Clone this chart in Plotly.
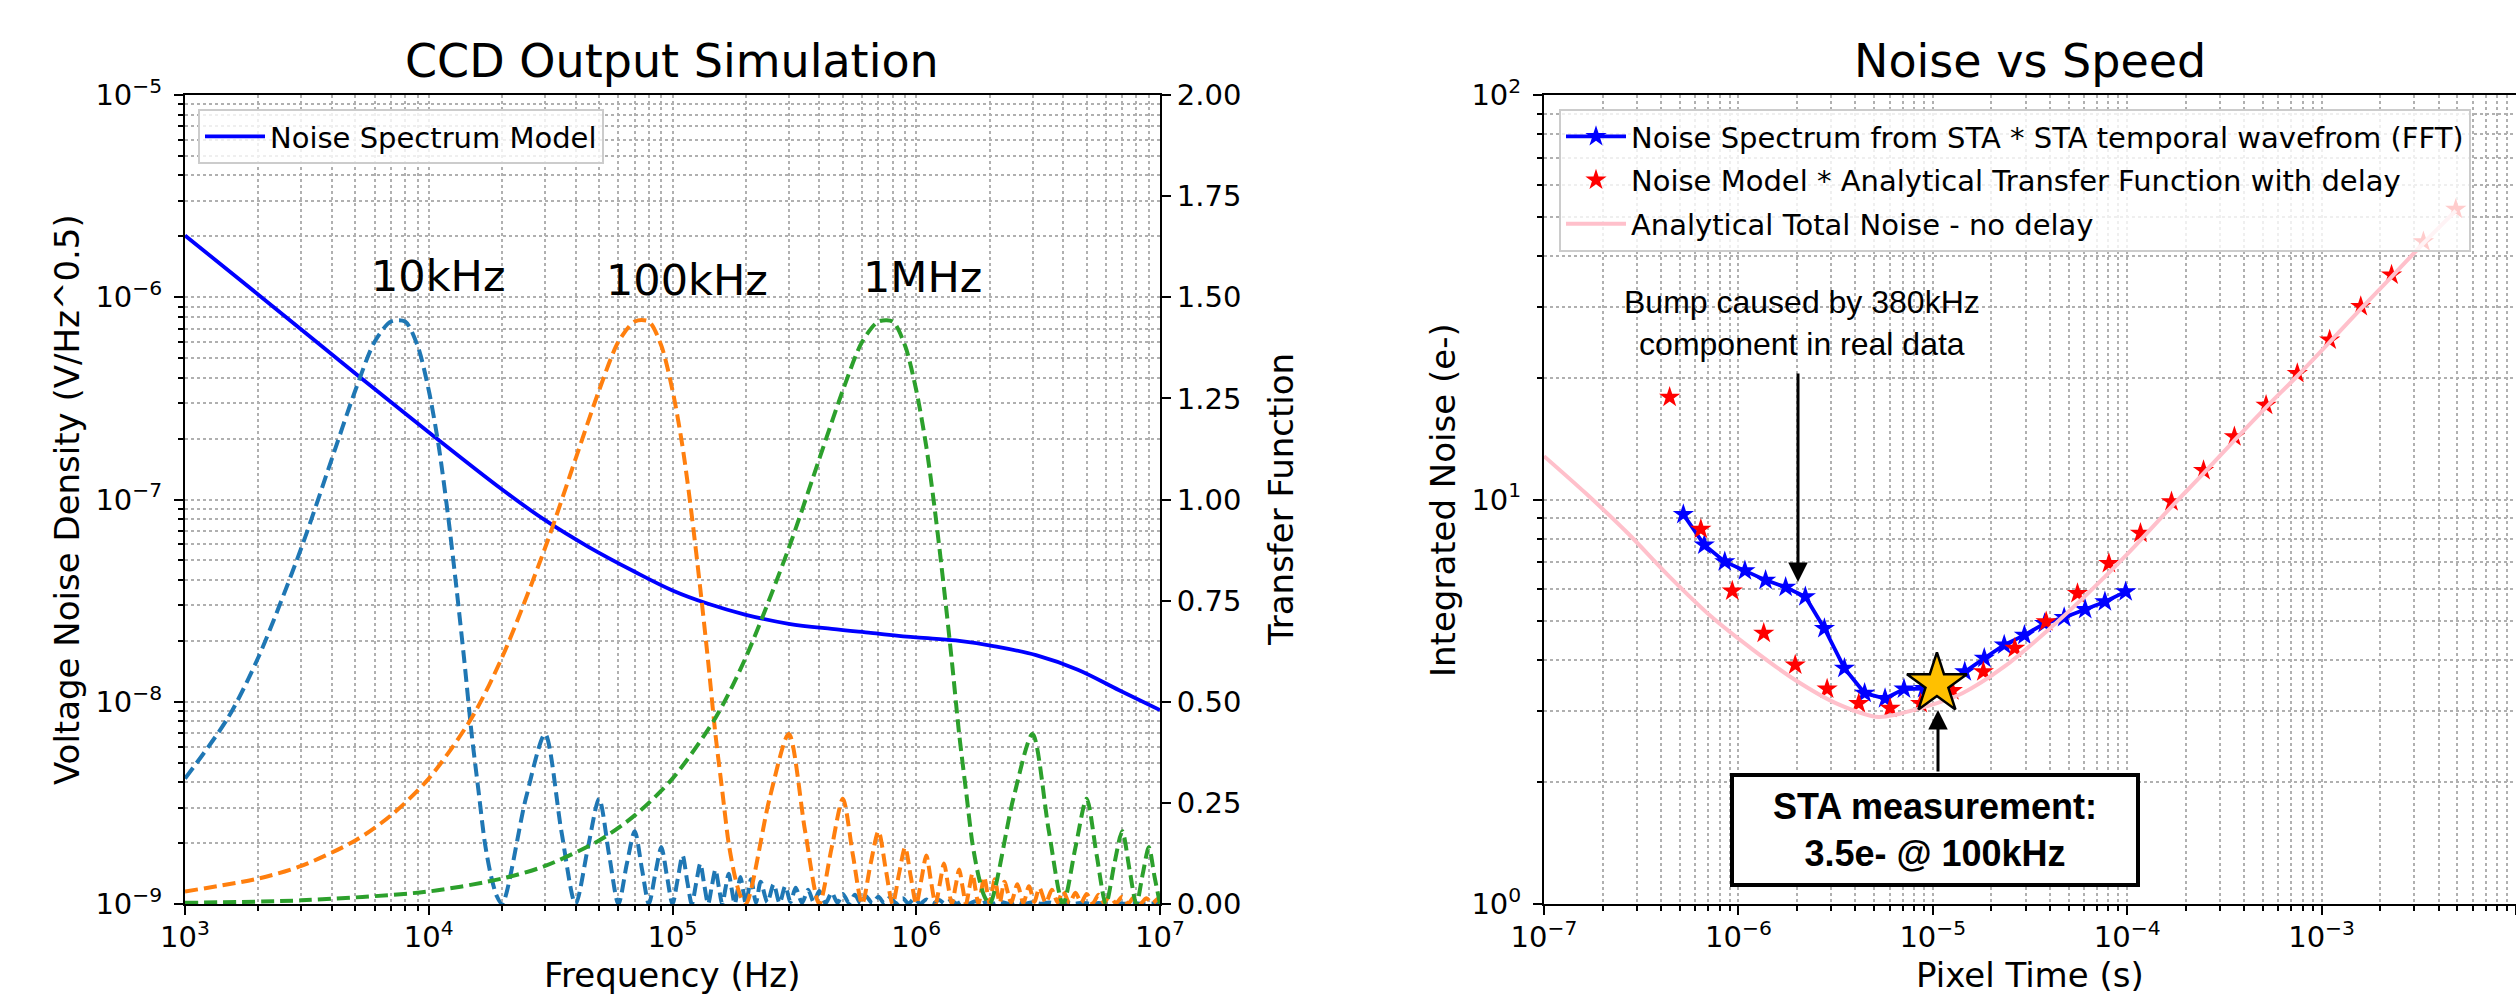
import plotly.graph_objects as go

W, H = 2516, 999

# ---------------- left panel: CCD Output Simulation ----------------
model_freq = [1e3, 2e3, 5e3, 1e4, 2e4, 3e4, 4.5e4, 7e4, 1e5, 1.4e5, 2e5, 3e5, 4.5e5, 6.5e5,
              1e6, 1.45e6, 2.1e6, 3.1e6, 4.6e6, 6.8e6, 1e7]
model_density = [2.02e-6, 1.03e-6, 4.2e-7, 2.15e-7, 1.12e-7, 7.9e-8, 5.85e-8, 4.39e-8, 3.55e-8,
                 3.05e-8, 2.69e-8, 2.43e-8, 2.29e-8, 2.19e-8, 2.08e-8, 2.01e-8, 1.88e-8, 1.70e-8,
                 1.44e-8, 1.14e-8, 9.1e-9]

# 10 kHz transfer function (main lobe + side lobes)
tf10k_freq = [1e3, 1.5e3, 2e3, 3e3, 4e3, 5e3, 6e3, 7e3, 8e3, 9e3, 1e4, 1.1e4, 1.2e4, 1.3e4, 1.4e4,
              1.5e4, 1.6e4, 1.7e4, 1.8e4, 1.9e4, 2e4,
              2.5e4, 3e4, 3.5e4, 4e4, 4.5e4, 5e4, 5.5e4, 6e4, 6.5e4, 7e4, 7.5e4, 8e4, 8.5e4, 9e4,
              9.5e4, 1e5, 1.05e5, 1.1e5, 1.15e5, 1.2e5, 1.25e5, 1.3e5, 1.35e5, 1.4e5, 1.45e5,
              1.5e5, 1.55e5, 1.6e5, 1.65e5, 1.7e5, 1.75e5, 1.8e5, 1.85e5, 1.9e5, 1.95e5, 2e5]
tf10k_gain = [0.31, 0.46, 0.61, 0.88, 1.10, 1.27, 1.39, 1.44, 1.44, 1.38, 1.27, 1.13, 0.96, 0.78, 0.60,
              0.42, 0.28, 0.15, 0.07, 0.02, 0.0,
              0.26, 0.42, 0.18, 0.0, 0.14, 0.26, 0.12, 0.0, 0.10, 0.18, 0.085, 0.0, 0.075, 0.14,
              0.067, 0.0, 0.061, 0.12, 0.055, 0.0, 0.051, 0.10, 0.047, 0.0, 0.044,
              0.085, 0.041, 0.0, 0.039, 0.075, 0.036, 0.0, 0.034, 0.067, 0.033, 0.0]
tf10k_tail_freq = [2.1e5, 2.2e5, 2.3e5, 2.45e5, 2.6e5, 2.75e5, 2.9e5, 3.05e5, 3.2e5, 3.4e5, 3.6e5,
                   3.8e5, 4.0e5, 4.25e5, 4.5e5, 4.75e5, 5.0e5, 5.3e5, 5.6e5, 5.9e5, 6.2e5, 6.6e5,
                   7.0e5, 7.4e5, 7.8e5, 8.3e5, 8.8e5, 9.3e5, 9.8e5, 1.04e6, 1.1e6, 1.17e6, 1.24e6,
                   1.31e6, 1.39e6, 1.47e6, 1.56e6, 1.65e6, 1.75e6, 1.85e6, 1.96e6, 2.08e6, 2.2e6,
                   2.4e6, 2.6e6, 2.8e6, 3.0e6, 3.25e6, 3.5e6, 3.8e6, 4.1e6, 4.45e6, 4.8e6, 5.2e6,
                   5.6e6, 6.1e6, 6.6e6, 7.2e6, 7.8e6, 8.5e6, 9.2e6, 1e7]
tf10k_tail_gain = [0.061, 0.003, 0.055, 0.004, 0.049, 0.002, 0.044, 0.005, 0.040, 0.003, 0.035,
                   0.004, 0.032, 0.002, 0.028, 0.003, 0.025, 0.002, 0.023, 0.002, 0.020, 0.002,
                   0.018, 0.001, 0.016, 0.001, 0.014, 0.001, 0.013, 0.001, 0.011, 0.001, 0.010,
                   0.001, 0.009, 0.001, 0.008, 0.001, 0.007, 0.001, 0.006, 0.001, 0.0055,
                   0.0005, 0.005, 0.0005, 0.0045, 0.0005, 0.004, 0.0005, 0.0035, 0.0005, 0.003, 0.0005,
                   0.0025, 0.0005, 0.002, 0.0005, 0.0018, 0.0005, 0.0015, 0.0005]

# 100 kHz transfer function
tf100k_freq = [1e3, 2e3, 3e3, 5e3, 7e3, 1e4, 1.5e4, 2e4, 3e4, 4e4, 5e4, 6e4, 7e4, 8e4, 9e4, 1e5,
               1.1e5, 1.2e5, 1.3e5, 1.4e5, 1.5e5, 1.6e5, 1.7e5, 1.8e5, 1.9e5, 2e5,
               2.5e5, 3e5, 3.5e5, 4e5, 4.5e5, 5e5, 5.5e5, 6e5, 6.5e5, 7e5, 7.5e5, 8e5, 8.5e5, 9e5,
               9.5e5, 1e6, 1.05e6, 1.1e6, 1.15e6, 1.2e6, 1.25e6, 1.3e6, 1.35e6, 1.4e6, 1.45e6,
               1.5e6, 1.55e6, 1.6e6, 1.65e6, 1.7e6, 1.75e6, 1.8e6, 1.85e6, 1.9e6, 1.95e6, 2e6]
tf100k_gain = [0.031, 0.063, 0.094, 0.157, 0.219, 0.31, 0.46, 0.61, 0.88, 1.10, 1.27, 1.39, 1.44, 1.44,
               1.38, 1.27, 1.13, 0.96, 0.78, 0.60, 0.42, 0.28, 0.15, 0.07, 0.02, 0.0,
               0.26, 0.42, 0.18, 0.0, 0.14, 0.26, 0.12, 0.0, 0.10, 0.18, 0.085, 0.0, 0.075, 0.14,
               0.067, 0.0, 0.061, 0.12, 0.055, 0.0, 0.051, 0.10, 0.047, 0.0, 0.044,
               0.085, 0.041, 0.0, 0.039, 0.075, 0.036, 0.0, 0.034, 0.067, 0.033, 0.0]
tf100k_tail_freq = [2.1e6, 2.2e6, 2.3e6, 2.45e6, 2.6e6, 2.75e6, 2.9e6, 3.05e6, 3.2e6, 3.4e6, 3.6e6,
                    3.8e6, 4.0e6, 4.25e6, 4.5e6, 4.75e6, 5.0e6, 5.3e6, 5.6e6, 5.9e6, 6.2e6, 6.6e6,
                    7.0e6, 7.4e6, 7.8e6, 8.3e6, 8.8e6, 9.3e6, 9.8e6, 1e7]
tf100k_tail_gain = [0.061, 0.003, 0.055, 0.004, 0.049, 0.002, 0.044, 0.005, 0.040, 0.003, 0.035,
                    0.004, 0.032, 0.002, 0.028, 0.003, 0.025, 0.002, 0.023, 0.002, 0.020, 0.002,
                    0.018, 0.001, 0.016, 0.001, 0.014, 0.001, 0.013, 0.004]

# 1 MHz transfer function
tf1m_freq = [1e3, 3e3, 1e4, 2e4, 3e4, 5e4, 7e4, 1e5, 1.5e5, 2e5, 3e5, 4e5, 5e5, 6e5, 7e5, 8e5, 9e5,
             1e6, 1.1e6, 1.2e6, 1.3e6, 1.4e6, 1.5e6, 1.6e6, 1.7e6, 1.8e6, 1.9e6, 2e6,
             2.5e6, 3e6, 3.5e6, 4e6, 4.5e6, 5e6, 5.5e6, 6e6, 6.5e6, 7e6, 7.5e6, 8e6, 8.5e6, 9e6,
             9.5e6, 1e7]
tf1m_gain = [0.003, 0.009, 0.031, 0.063, 0.094, 0.157, 0.219, 0.31, 0.46, 0.61, 0.88, 1.10, 1.27,
             1.39, 1.44, 1.44, 1.38, 1.27, 1.13, 0.96, 0.78, 0.60, 0.42, 0.28, 0.15, 0.07, 0.02, 0.0,
             0.26, 0.42, 0.18, 0.0, 0.14, 0.26, 0.12, 0.0, 0.10, 0.18, 0.085, 0.0, 0.075, 0.14,
             0.067, 0.0]

# ---------------- right panel: Noise vs Speed ----------------
sta_time = [5.21e-7, 6.68e-7, 8.51e-7, 1.08e-6, 1.38e-6, 1.75e-6, 2.21e-6, 2.77e-6, 3.51e-6, 4.46e-6,
            5.68e-6, 7.11e-6, 9.02e-6, 1.14e-5, 1.46e-5, 1.84e-5, 2.33e-5, 2.96e-5, 3.76e-5,
            4.74e-5, 6.08e-5, 7.68e-5, 9.82e-5]
sta_noise = [9.19, 7.72, 7.02, 6.67, 6.32, 6.07, 5.75, 4.80, 3.83, 3.32, 3.22, 3.40, 3.41, 3.51,
             3.75, 4.05, 4.37, 4.62, 4.94, 5.11, 5.35, 5.59, 5.92]

delay_time = [4.43e-7, 6.41e-7, 9.3e-7, 1.35e-6, 1.96e-6, 2.86e-6, 4.16e-6, 6.03e-6, 8.66e-6, 1.26e-5,
              1.82e-5, 2.64e-5, 3.83e-5, 5.55e-5, 8.05e-5, 1.17e-4, 1.69e-4, 2.47e-4, 3.56e-4,
              5.18e-4, 7.5e-4, 1.1e-3, 1.59e-3, 2.29e-3, 3.34e-3, 4.9e-3]
delay_noise = [17.9, 8.44, 5.94, 4.67, 3.90, 3.40, 3.13, 3.05, 3.13, 3.37, 3.75, 4.29, 4.99, 5.86,
               6.95, 8.25, 9.88, 11.8, 14.3, 17.1, 20.5, 24.8, 30.0, 35.9, 43.4, 52.2]

analytic_time = [1e-7, 1.64e-7, 2.70e-7, 4.43e-7, 7.27e-7, 1.19e-6, 1.96e-6, 3.21e-6, 5.27e-6,
                 8.66e-6, 1.42e-5, 2.33e-5, 3.83e-5, 6.28e-5, 1.03e-4, 1.69e-4, 2.47e-4, 3.56e-4,
                 5.18e-4, 7.5e-4, 1.1e-3, 1.59e-3, 2.29e-3, 3.34e-3, 4.9e-3]
analytic_noise = [12.8, 10.36, 8.25, 6.44, 5.13, 4.25, 3.58, 3.13, 2.90, 3.05, 3.32, 3.86, 4.71,
                  5.86, 7.43, 9.6, 11.6, 14.0, 16.9, 20.2, 24.5, 29.6, 35.5, 43.0, 51.8]

measure_time = [1.05e-5]
measure_noise = [3.5]

FONT = "DejaVu Sans"
ARIAL = "Liberation Sans"
GRID = "#b0b0b0"
TICK_SIZE = 29


def px(x):
    return x / W


def py(y):
    return 1 - y / H


def sup(e):
    return "10<sup>" + str(e).replace("-", "\u2212") + "</sup>"


def log_axis(domain, lo, hi, **kw):
    ax = dict(
        type="log", domain=domain, range=[lo, hi], automargin=False,
        tickmode="array", tickvals=[10.0 ** e for e in range(lo, hi + 1)],
        ticktext=[sup(e) for e in range(lo, hi + 1)],
        ticks="outside", ticklen=9, tickwidth=2, tickcolor="black",
        showline=True, linewidth=2, linecolor="black",
        showgrid=True, gridcolor=GRID, griddash="dot", gridwidth=1.5,
        zeroline=False,
        tickfont=dict(family=FONT, size=TICK_SIZE, color="black"),
        minor=dict(tickmode="array",
                   tickvals=[m * 10.0 ** e for e in range(lo, hi) for m in range(2, 10)],
                   ticks="outside", ticklen=5, tickwidth=1.5, tickcolor="black",
                   showgrid=True, gridcolor=GRID, griddash="dot", gridwidth=1.5),
    )
    ax.update(kw)
    return ax


fig = go.Figure()

fig.add_trace(go.Scatter(x=model_freq, y=model_density, mode="lines", name="Noise Spectrum Model",
                         line=dict(color="#0000ff", width=3.8, shape="spline", smoothing=1.0),
                         xaxis="x", yaxis="y", legend="legend"))

dash = "13px,6px"
for f, g, tf, tg, col in [(tf10k_freq, tf10k_gain, tf10k_tail_freq, tf10k_tail_gain, "#1f77b4"),
                          (tf100k_freq, tf100k_gain, tf100k_tail_freq, tf100k_tail_gain, "#ff7f0e"),
                          (tf1m_freq, tf1m_gain, [], [], "#2ca02c")]:
    fig.add_trace(go.Scatter(x=f + tf, y=g + tg, mode="lines", showlegend=False,
                             line=dict(color=col, width=4, dash=dash, shape="spline", smoothing=0.8),
                             xaxis="x", yaxis="y2"))

fig.add_trace(go.Scatter(x=sta_time, y=sta_noise, mode="lines+markers",
                         name="Noise Spectrum from STA * STA temporal wavefrom (FFT)",
                         line=dict(color="#0000ff", width=3.8),
                         marker=dict(symbol="star", size=16, color="#0000ff"),
                         xaxis="x2", yaxis="y3", legend="legend2", legendgroup="a"))
fig.add_trace(go.Scatter(x=delay_time, y=delay_noise, mode="markers",
                         name="Noise Model * Analytical Transfer Function with delay",
                         marker=dict(symbol="star", size=16, color="#ff0000"),
                         xaxis="x2", yaxis="y3", legend="legend2", legendgroup="b"))
fig.add_trace(go.Scatter(x=analytic_time, y=analytic_noise, mode="lines",
                         name="Analytical Total Noise - no delay",
                         line=dict(color="#ffc0cb", width=4, shape="spline", smoothing=0.8),
                         xaxis="x2", yaxis="y3", legend="legend2", legendgroup="c"))
fig.add_trace(go.Scatter(x=measure_time, y=measure_noise, mode="markers", showlegend=False,
                         marker=dict(symbol="star", size=45, color="#ffc000",
                                     line=dict(color="black", width=2.5)),
                         xaxis="x2", yaxis="y3"))

ydom = [py(904), py(95)]
legend_style = dict(font=dict(family=FONT, size=TICK_SIZE, color="black"),
                    bgcolor="rgba(255,255,255,0.8)", bordercolor="#cccccc", borderwidth=2,
                    xanchor="left", yanchor="top", itemwidth=60)

fig.update_layout(
    width=W, height=H,
    margin=dict(l=0, r=0, t=0, b=0, autoexpand=False),
    paper_bgcolor="white", plot_bgcolor="white",
    font=dict(family=FONT, color="black"),
    xaxis=log_axis([px(185), px(1160)], 3, 7, anchor="y", mirror=True, ticklabelstandoff=-3),
    yaxis=log_axis(ydom, -9, -5, anchor="x", mirror=True, ticklabelstandoff=6),
    yaxis2=dict(overlaying="y", side="right", anchor="x", range=[0, 2], dtick=0.25,
                tickformat=".2f", ticks="outside", ticklen=9, tickwidth=2, tickcolor="black",
                showline=True, linewidth=2, linecolor="black", showgrid=False, zeroline=False,
                automargin=False,
                tickfont=dict(family=FONT, size=TICK_SIZE, color="black")),
    xaxis2=log_axis([px(1544), 1.0], -7, -2, anchor="y3", mirror=True, ticklabelstandoff=-3),
    yaxis3=log_axis(ydom, 0, 2, anchor="x2", ticklabelstandoff=6),
    legend=dict(x=px(198), y=py(109), **legend_style),
    legend2=dict(x=px(1559), y=py(109), traceorder="grouped", tracegroupgap=3, **legend_style),
)

notes = [
    ("CCD Output Simulation", 672, 61, 46, 0, FONT),
    ("Noise vs Speed", 2030, 61, 46, 0, FONT),
    ("Frequency (Hz)", 672, 975, 34, 0, FONT),
    ("Pixel Time (s)", 2030, 975, 34, 0, FONT),
    ("Voltage Noise Density (V/Hz^0.5)", 67, 500, 34, -90, FONT),
    ("Transfer Function", 1281, 500, 34, -90, FONT),
    ("Integrated Noise (e-)", 1443, 500, 34, -90, FONT),
    ("10kHz", 438, 276, 43, 0, FONT),
    ("100kHz", 687, 280, 43, 0, FONT),
    ("1MHz", 922, 277, 43, 0, FONT),
    ("Bump caused by 380kHz<br>component in real data", 1802, 323, 32, 0, ARIAL),
]
for text, x, y, size, angle, fam in notes:
    fig.add_annotation(text=text, x=px(x), y=py(y), xref="paper", yref="paper", showarrow=False,
                       xanchor="center", yanchor="middle", textangle=angle,
                       font=dict(family=fam, size=size, color="black"))

# arrows
fig.add_annotation(text="", x=px(1798), y=py(582), xref="paper", yref="paper", ax=0, ay=-210,
                   showarrow=True, arrowhead=2, arrowsize=1.3, arrowwidth=3, arrowcolor="black")
fig.add_annotation(text="", x=px(1938), y=py(710), xref="paper", yref="paper", ax=0, ay=63,
                   showarrow=True, arrowhead=2, arrowsize=1.3, arrowwidth=3, arrowcolor="black")

# measurement box
fig.add_annotation(text="<b>STA measurement:</b><br><b>3.5e- @ 100kHz</b>",
                   x=px(1935), y=py(829.5), xref="paper", yref="paper", showarrow=False,
                   xanchor="center", yanchor="middle", width=400, height=104, borderpad=1,
                   bordercolor="black", borderwidth=4, bgcolor="white",
                   font=dict(family=ARIAL, size=36, color="black"))

# page body has a default 8px margin; drop it so the figure sits at the window origin
fig.write_html("out.html", config={"displayModeBar": False},
               post_script="document.body.style.margin='0';document.body.style.overflow='hidden';")
